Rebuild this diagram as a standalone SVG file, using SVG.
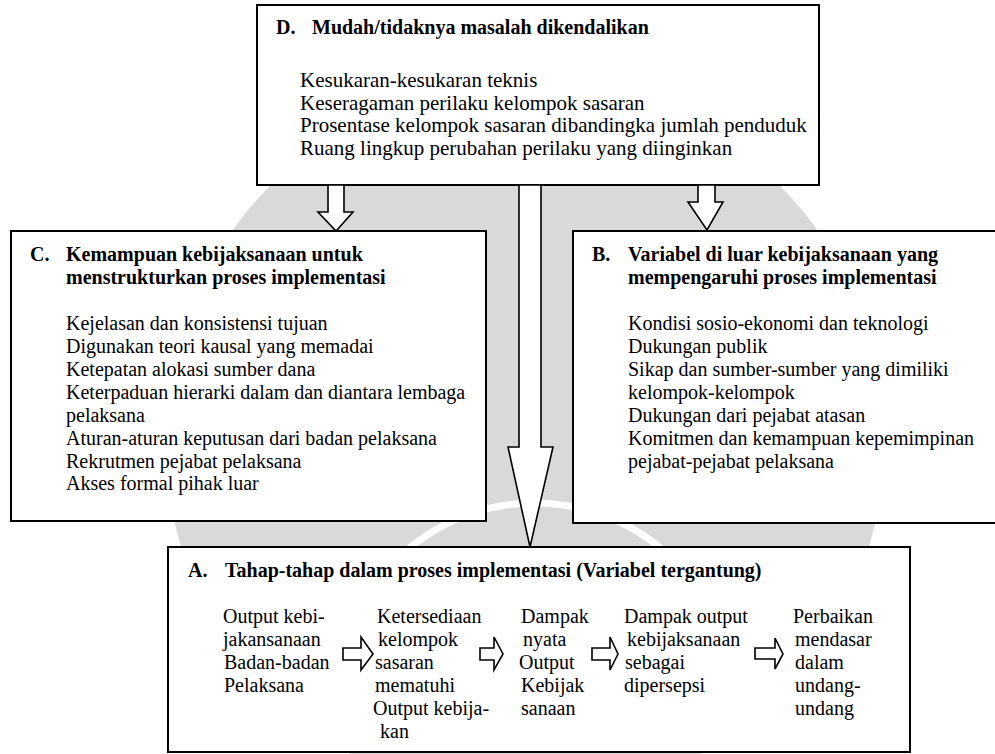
<svg xmlns="http://www.w3.org/2000/svg" width="995" height="754" viewBox="0 0 995 754">
<style>
.box{fill:#fff;stroke:#000;stroke-width:2}
.arr{fill:#fff;stroke:#000;stroke-width:1.6;stroke-linejoin:miter}
text{font-family:"Liberation Serif","Times New Roman",serif;font-size:20px;fill:#000}
.b{font-weight:bold}
.d{font-size:21px}
</style>
<rect x="0" y="0" width="995" height="754" fill="#fff"/>
<g id="watermark">
<circle cx="525" cy="440" r="360" fill="#d9d9d9"/>
<circle cx="535" cy="700" r="197" fill="none" stroke="#fff" stroke-width="7"/>
</g>
<g id="nodeD">
<rect class="box" x="257" y="5" width="562" height="180"/>
<text class="b" x="276" y="34">D.</text>
<text class="b" x="312" y="34">Mudah/tidaknya masalah dikendalikan</text>
<text class="d" x="300" y="87">Kesukaran-kesukaran teknis</text>
<text class="d" x="300" y="109.5">Keseragaman perilaku kelompok sasaran</text>
<text class="d" x="300" y="132">Prosentase kelompok sasaran dibandingka jumlah penduduk</text>
<text class="d" x="300" y="154.5">Ruang lingkup perubahan perilaku yang diinginkan</text>
</g>
<g id="nodeC">
<rect class="box" x="11" y="231" width="475" height="290"/>
<text class="b" x="30" y="261">C.</text>
<text class="b" x="66" y="261">Kemampuan kebijaksanaan untuk</text>
<text class="b" x="66" y="284">menstrukturkan proses implementasi</text>
<text x="66" y="330">Kejelasan dan konsistensi tujuan</text>
<text x="66" y="353">Digunakan teori kausal yang memadai</text>
<text x="66" y="376">Ketepatan alokasi sumber dana</text>
<text x="66" y="399">Keterpaduan hierarki dalam dan diantara lembaga</text>
<text x="66" y="421.5">pelaksana</text>
<text x="66" y="444.5">Aturan-aturan keputusan dari badan pelaksana</text>
<text x="66" y="467.5">Rekrutmen pejabat pelaksana</text>
<text x="66" y="490">Akses formal pihak luar</text>
</g>
<g id="nodeB">
<rect class="box" x="573" y="231" width="424" height="292"/>
<text class="b" x="592" y="261">B.</text>
<text class="b" x="628" y="261">Variabel di luar kebijaksanaan yang</text>
<text class="b" x="628" y="284">mempengaruhi proses implementasi</text>
<text x="628" y="330">Kondisi sosio-ekonomi dan teknologi</text>
<text x="628" y="353">Dukungan publik</text>
<text x="628" y="376">Sikap dan sumber-sumber yang dimiliki</text>
<text x="628" y="399">kelompok-kelompok</text>
<text x="628" y="421.5">Dukungan dari pejabat atasan</text>
<text x="628" y="444.5">Komitmen dan kemampuan kepemimpinan</text>
<text x="628" y="467.5">pejabat-pejabat pelaksana</text>
</g>
<g id="nodeA">
<rect class="box" x="168" y="547" width="742" height="205"/>
<text class="b" x="188" y="577">A.</text>
<text class="b" x="225" y="577">Tahap-tahap dalam proses implementasi (Variabel tergantung)</text>
<text x="223" y="623">Output kebi-</text>
<text x="223" y="646">jakansanaan</text>
<text x="224" y="669">Badan-badan</text>
<text x="224" y="692">Pelaksana</text>
<text x="377" y="623">Ketersediaan</text>
<text x="378" y="646">kelompok</text>
<text x="375" y="669">sasaran</text>
<text x="375" y="692">mematuhi</text>
<text x="373" y="714.5">Output kebija-</text>
<text x="380" y="738">kan</text>
<text x="521" y="623">Dampak</text>
<text x="523" y="646">nyata</text>
<text x="519" y="669">Output</text>
<text x="521" y="692">Kebijak</text>
<text x="521" y="714.5">sanaan</text>
<text x="624" y="623">Dampak output</text>
<text x="627" y="646">kebijaksanaan</text>
<text x="625" y="669">sebagai</text>
<text x="624" y="692">dipersepsi</text>
<text x="793" y="623">Perbaikan</text>
<text x="795" y="646">mendasar</text>
<text x="795" y="669">dalam</text>
<text x="795" y="692">undang-</text>
<text x="795" y="714.5">undang</text>
</g>
<g id="connectors">
<polygon class="arr" points="328,185 344,185 344,212 353,212 336,231 318,212 328,212"/>
<polygon class="arr" points="698,185 715,185 715,202 723,202 707,230 688,202 698,202"/>
<polygon class="arr" points="519,185 541,185 541,447 553,447 530,547 508,447 519,447"/>
<polygon class="arr" points="343,648 361,648 361,637 373,654 361,670 361,660 343,660"/>
<polygon class="arr" points="480,648 494,648 494,637 503,654 494,670 494,660 480,660"/>
<polygon class="arr" points="592,648 610,648 610,637 618,654 610,670 610,660 592,660"/>
<polygon class="arr" points="755,648 775,648 775,638 783,654 775,669 775,659 755,659"/>
</g>
</svg>
